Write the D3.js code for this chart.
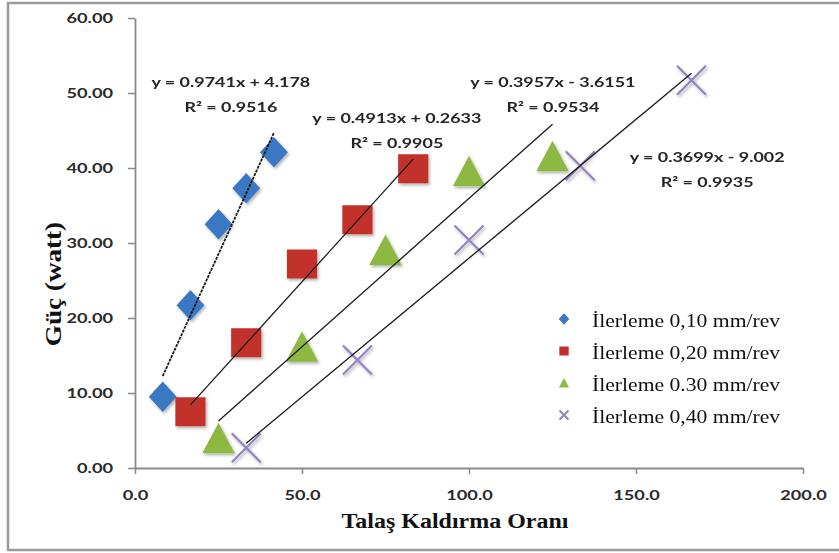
<!DOCTYPE html>
<html>

<head>
  <meta charset='utf-8'>
  <script src='https://d3js.org/d3.v7.min.js'></script>
  <style>
    body {
      margin: 0;
      background: #fff;
    }

    svg {
      display: block;
    }
  </style>
</head>

<body>
  <script type='text/javascript'>
    'use strict';

    /*
      values
    */
    var seriesNames = ['İlerleme 0,10 mm/rev', 'İlerleme 0,20 mm/rev',
      'İlerleme 0.30 mm/rev', 'İlerleme 0,40 mm/rev'];
    var xF10 = [8.3, 16.6, 25.0, 33.3, 41.6];
    var yF10 = [9.5, 21.7, 32.5, 37.3, 42.1];
    var xF20 = [16.6, 33.3, 50.0, 66.6, 83.3];
    var yF20 = [7.5, 16.7, 27.2, 33.1, 39.9];
    var xF30 = [25.0, 50.0, 75.0, 100.0, 125.0];
    var yF30 = [3.9, 16.1, 29.0, 39.5, 41.5];
    var xF40 = [33.3, 66.6, 100.0, 133.3, 166.6];
    var yF40 = [2.7, 14.4, 30.4, 40.3, 51.7];
    var slopes = [0.9741, 0.4913, 0.3957, 0.3699];
    var intercepts = [4.178, 0.2633, -3.6151, -9.002];
    var eqTexts = ['y = 0.9741x + 4.178', 'y = 0.4913x + 0.2633',
      'y = 0.3957x - 3.6151', 'y = 0.3699x - 9.002'];
    var r2Texts = ['R² = 0.9516', 'R² = 0.9905', 'R² = 0.9534', 'R² = 0.9935'];
    var xTicks = [0, 50, 100, 150, 200];
    var yTicks = [0, 10, 20, 30, 40, 50, 60];

    // where the equation labels sit, in data units
    var eqAtX = [28.7, 78.4, 125.1, 171.3];
    var eqAtY = [49.8, 44.9, 49.7, 39.7];

    var colors = ['#3b78c4', '#c2302b', '#8db843', '#9282c0'];
    var shapes = ['diamond', 'square', 'triangle', 'cross'];

    var series = [
      { xs: xF10, ys: yF10 },
      { xs: xF20, ys: yF20 },
      { xs: xF30, ys: yF30 },
      { xs: xF40, ys: yF40 }
    ];

    var width = 839,
      height = 553;

    var svg = d3.select('body')
      .append('svg')
      .attr('width', width)
      .attr('height', height);

    var defs = svg.append('defs');
    var shadow = defs.append('filter').attr('id', 'shade')
      .attr('x', '-30%').attr('y', '-30%').attr('width', '170%').attr('height', '170%');
    shadow.append('feGaussianBlur').attr('in', 'SourceGraphic').attr('stdDeviation', 0.6).attr('result', 'soft');
    shadow.append('feDropShadow').attr('in', 'soft').attr('dx', 1.5).attr('dy', 2)
      .attr('stdDeviation', 1.6).attr('flood-color', '#000').attr('flood-opacity', 0.3);

    // outer frame
    svg.append('rect')
      .attr('x', 8).attr('y', 3)
      .attr('width', 845).attr('height', 547)
      .attr('fill', 'none')
      .attr('stroke', '#9a9a9a')
      .attr('stroke-width', 2.5);

    var x = d3.scaleLinear().domain([0, 200]).range([135, 803]);
    var y = d3.scaleLinear().domain([0, 60]).range([468, 18]);

    function markerPath(shape, s) {
      var p = d3.path();
      if (shape === 'diamond') {
        p.moveTo(0, -s * 0.53); p.lineTo(s * 0.48, 0); p.lineTo(0, s * 0.53); p.lineTo(-s * 0.48, 0); p.closePath();
      } else if (shape === 'square') {
        p.rect(-s * 0.52, -s * 0.5, s * 1.04, s);
      } else if (shape === 'triangle') {
        p.moveTo(0, -s * 0.55); p.lineTo(s * 0.56, s * 0.5); p.lineTo(-s * 0.56, s * 0.5); p.closePath();
      } else {
        p.moveTo(-s * 0.5, -s * 0.5); p.lineTo(s * 0.5, s * 0.5);
        p.moveTo(s * 0.5, -s * 0.5); p.lineTo(-s * 0.5, s * 0.5);
      }
      return p.toString();
    }

    /*
      axes
    */
    var xAxis = svg.append('g')
      .attr('transform', 'translate(0,' + y(0) + ')')
      .call(d3.axisBottom(x).tickValues(xTicks).tickSize(6).tickSizeOuter(0)
        .tickFormat(d3.format('.1f')));
    var yAxis = svg.append('g')
      .attr('transform', 'translate(' + x(0) + ',0)')
      .call(d3.axisLeft(y).tickValues(yTicks).tickSize(7).tickSizeOuter(0)
        .tickFormat(d3.format('.2f')));

    [xAxis, yAxis].forEach(function(ax) {
      ax.select('.domain').attr('stroke', '#8a8a8a').attr('stroke-width', 1.8);
      ax.selectAll('.tick line').attr('stroke', '#8a8a8a').attr('stroke-width', 1.5);
      ax.selectAll('.tick text')
        .attr('fill', '#2a2a2a')
        .style('font-family', 'Lato, sans-serif')
        .style('font-weight', 'bold')
        .style('font-size', '13px');
    });
    xAxis.selectAll('.tick text')
      .attr('y', 0).attr('dy', 0)
      .attr('transform', 'translate(0,32) scale(1.4,1)');
    yAxis.selectAll('.tick text')
      .attr('x', 0).attr('dy', '0.36em')
      .attr('transform', 'translate(-22,0) scale(1.4,1)');

    // axis titles
    svg.append('text')
      .attr('transform', 'translate(455,528) scale(1.09,1)')
      .attr('text-anchor', 'middle')
      .style('font-family', '"Liberation Serif", "Times New Roman", serif')
      .style('font-weight', 'bold')
      .style('font-size', '22px')
      .attr('fill', '#111')
      .text('Talaş Kaldırma Oranı');
    svg.append('g')
      .attr('transform', 'translate(54,284) rotate(-90)')
      .append('text')
      .attr('text-anchor', 'middle')
      .attr('dy', '0.32em')
      .attr('transform', 'scale(1.18,1)')
      .style('font-family', '"Liberation Serif", "Times New Roman", serif')
      .style('font-weight', 'bold')
      .style('font-size', '23px')
      .attr('fill', '#111')
      .text('Güç (watt)');

    /*
      markers
    */
    var marks = svg.append('g').attr('filter', 'url(#shade)');
    series.forEach(function(s, i) {
      marks.selectAll('.m' + i)
        .data(d3.range(s.xs.length))
        .enter()
        .append('path')
        .attr('class', 'm' + i)
        .attr('transform', function(k) {
          return 'translate(' + x(s.xs[k]) + ',' + y(s.ys[k]) + ')';
        })
        .attr('d', markerPath(shapes[i], 29))
        .attr('fill', shapes[i] === 'cross' ? 'none' : colors[i])
        .attr('stroke', shapes[i] === 'cross' ? colors[i] : 'none')
        .attr('stroke-width', 2.2);
    });

    /*
      linear trendlines, from first to last point of each series
    */
    series.forEach(function(s, i) {
      var x0 = d3.min(s.xs),
        x1 = d3.max(s.xs);
      svg.append('line')
        .attr('x1', x(x0)).attr('y1', y(slopes[i] * x0 + intercepts[i]))
        .attr('x2', x(x1)).attr('y2', y(slopes[i] * x1 + intercepts[i]))
        .attr('stroke', '#1a1a1a')
        .attr('stroke-width', i === 0 ? 1.8 : 1.3)
        .attr('stroke-dasharray', i === 0 ? '3,1' : null);
    });

    // equation labels
    eqTexts.forEach(function(t, i) {
      [t, r2Texts[i]].forEach(function(line, j) {
        svg.append('text')
          .attr('transform', 'translate(' + x(eqAtX[i]) + ',' + (y(eqAtY[i]) + (j === 0 ? -12.5 : 12.5)) + ') scale(1.38,1)')
          .attr('text-anchor', 'middle')
          .attr('dy', '0.35em')
          .attr('fill', '#262626')
          .style('font-family', 'Lato, sans-serif')
          .style('font-weight', 'bold')
          .style('font-size', '13px')
          .text(line);
      });
    });

    /*
      legend
    */
    var legend = svg.append('g').attr('transform', 'translate(564,327)');
    seriesNames.forEach(function(name, i) {
      var row = legend.append('g').attr('transform', 'translate(0,' + (i * 32) + ')');
      row.append('path')
        .attr('transform', 'translate(0,-8)')
        .attr('d', markerPath(shapes[i], shapes[i] === 'diamond' ? 11 : 9))
        .attr('fill', shapes[i] === 'cross' ? 'none' : colors[i])
        .attr('stroke', shapes[i] === 'cross' ? colors[i] : 'none')
        .attr('stroke-width', 2);
      row.append('text')
        .attr('transform', 'translate(28,0) scale(1.14,1)')
        .attr('fill', '#111')
        .style('font-family', '"Liberation Serif", "Times New Roman", serif')
        .style('font-size', '19px')
        .text(name);
    });
  </script>
</body>

</html>
